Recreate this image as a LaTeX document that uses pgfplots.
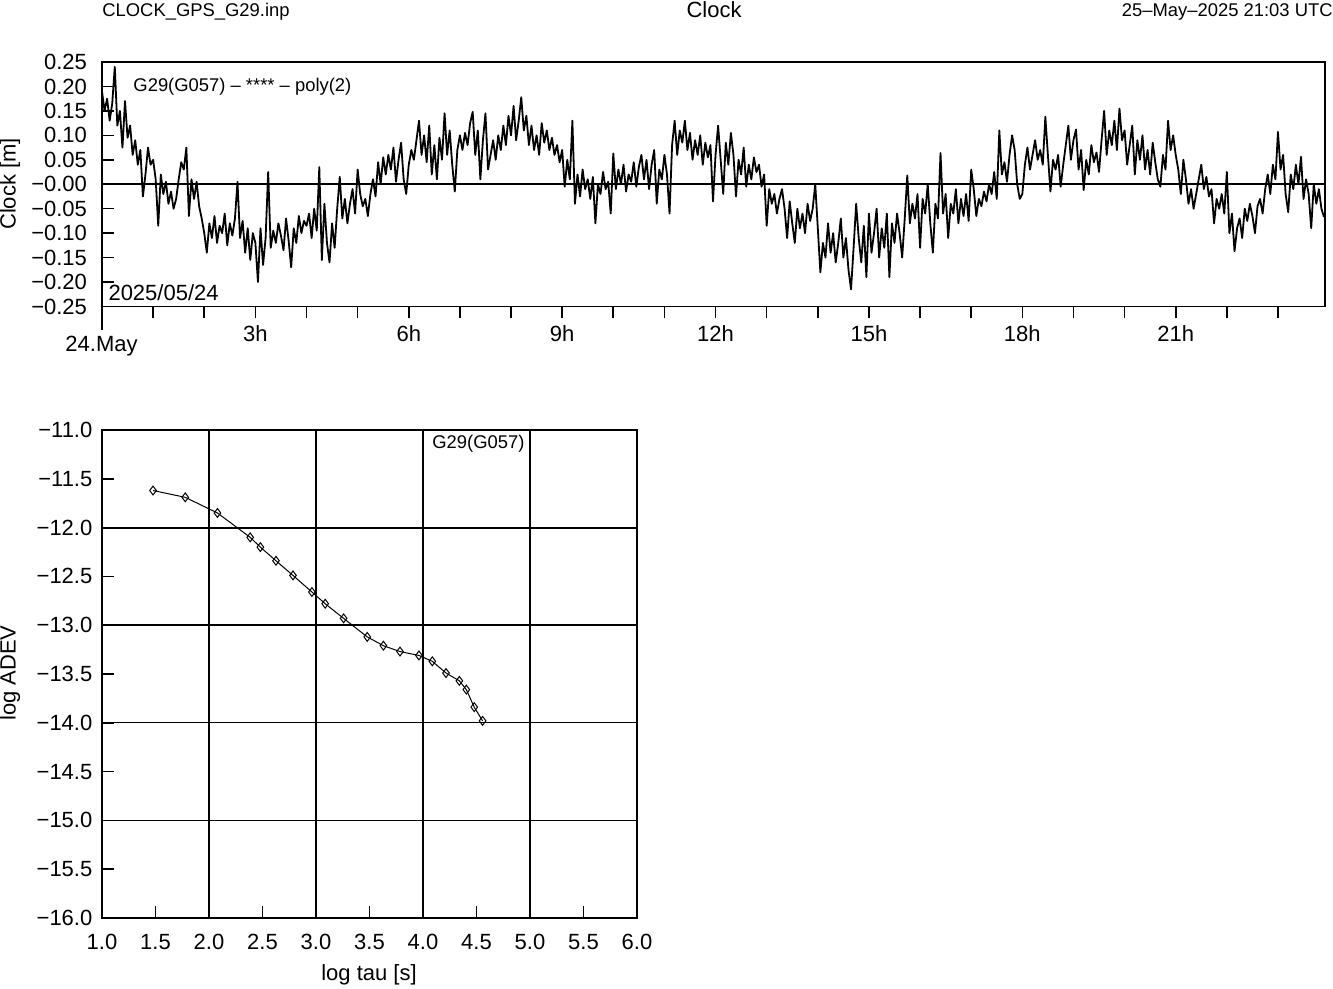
\documentclass[border=0pt]{standalone}
\usepackage{pgfplots}
\pgfplotsset{compat=1.18}
\usepackage{fontspec}
\setmainfont{Liberation Sans}
\newcommand{\tf}{\fontsize{11}{13}\selectfont}
\newcommand{\smf}{\fontsize{9.2}{11}\selectfont}
\begin{document}
\begin{tikzpicture}
\useasboundingbox (0,0) rectangle (666.5pt,494.5pt);
% header texts
\node[anchor=west,inner sep=0pt,font=\smf] at (51pt,488.5pt) {CLOCK\_GPS\_G29.inp};
\node[inner sep=0pt,font=\tf] at (357pt,489.5pt) {Clock};
\node[anchor=east,inner sep=0pt,font=\smf] at (666.5pt,488.5pt) {25–May–2025 21:03 UTC};
\node[rotate=90,inner sep=0pt,font=\tf] at (5pt,402.5pt) {Clock [m]};
\node[rotate=90,inner sep=0pt,font=\tf] at (5pt,158pt) {log ADEV};
\node[inner sep=0pt,font=\tf] at (184.5pt,7pt) {log tau [s]};
\node[inner sep=0pt,font=\tf] at (50.75pt,321.5pt) {24.May};
\draw[line width=0.8pt] (51pt,341.25pt) -- (51pt,329.5pt);

\begin{axis}[
  at={(51pt,341.25pt)}, anchor=south west,
  scale only axis, width=611.5pt, height=122.25pt,
  xmin=0, xmax=23.92, ymin=-0.25, ymax=0.25,
  axis line style={line width=0.8pt},
  xtick={0,...,23},
  xticklabels={,,,3h,,,6h,,,9h,,,12h,,,15h,,,18h,,,21h,,},
  xtick pos=bottom, ytick pos=left,
  xtick align=outside, ytick align=inside,
  major tick length=6pt,
  tick style={line width=0.8pt, black},
  ytick={-0.25,-0.2,-0.15,-0.1,-0.05,0,0.05,0.1,0.15,0.2,0.25},
  yticklabels={−0.25,−0.20,−0.15,−0.10,−0.05,−0.00,0.05,0.10,0.15,0.20,0.25},
  tick label style={font=\tf},
  yticklabel style={xshift=-4pt},
  clip=true,
]
\addplot[black, line width=1pt] coordinates {(0,0) (23.92,0)};
\addplot[black, line width=0.9pt, line join=round] table[header=false, row sep=\\, x expr=\coordindex*0.05, y index=0]{
0.190\\ 0.150\\ 0.175\\ 0.130\\ 0.165\\ 0.240\\ 0.120\\ 0.150\\ 0.075\\ 0.170\\ 0.095\\ 0.120\\ 0.060\\ 0.090\\ 0.040\\ 0.070\\ -0.025\\ 0.020\\ 0.075\\ 0.040\\
0.050\\ 0.010\\ -0.085\\ 0.020\\ -0.020\\ 0.005\\ -0.040\\ -0.015\\ -0.050\\ -0.030\\ 0.010\\ 0.045\\ 0.030\\ 0.075\\ -0.065\\ 0.010\\ -0.030\\ 0.005\\ -0.045\\ -0.070\\
-0.100\\ -0.140\\ -0.080\\ -0.110\\ -0.065\\ -0.120\\ -0.085\\ -0.100\\ -0.060\\ -0.125\\ -0.080\\ -0.105\\ -0.070\\ 0.005\\ -0.110\\ -0.075\\ -0.140\\ -0.090\\ -0.155\\ -0.100\\
-0.120\\ -0.200\\ -0.090\\ -0.165\\ -0.110\\ 0.025\\ -0.130\\ -0.095\\ -0.120\\ -0.080\\ -0.105\\ -0.135\\ -0.070\\ -0.115\\ -0.170\\ -0.090\\ -0.120\\ -0.065\\ -0.100\\ -0.075\\
-0.085\\ -0.060\\ -0.110\\ -0.050\\ -0.095\\ 0.035\\ -0.155\\ -0.040\\ -0.120\\ -0.160\\ -0.080\\ -0.130\\ -0.050\\ 0.015\\ -0.070\\ -0.030\\ -0.080\\ -0.040\\ -0.010\\ -0.060\\
0.030\\ -0.020\\ -0.045\\ -0.030\\ -0.065\\ -0.020\\ 0.010\\ -0.025\\ 0.045\\ 0.000\\ 0.055\\ 0.020\\ 0.060\\ 0.030\\ 0.075\\ 0.005\\ 0.050\\ 0.085\\ 0.010\\ -0.020\\
0.040\\ 0.070\\ 0.050\\ 0.090\\ 0.130\\ 0.060\\ 0.100\\ 0.045\\ 0.120\\ 0.020\\ 0.080\\ 0.010\\ 0.095\\ 0.050\\ 0.145\\ 0.060\\ 0.110\\ 0.040\\ -0.015\\ 0.070\\
0.100\\ 0.070\\ 0.105\\ 0.080\\ 0.125\\ 0.148\\ 0.060\\ 0.110\\ 0.010\\ 0.090\\ 0.145\\ 0.030\\ 0.060\\ 0.090\\ 0.050\\ 0.100\\ 0.070\\ 0.120\\ 0.080\\ 0.140\\
0.100\\ 0.160\\ 0.090\\ 0.130\\ 0.178\\ 0.110\\ 0.140\\ 0.080\\ 0.120\\ 0.070\\ 0.100\\ 0.060\\ 0.125\\ 0.085\\ 0.110\\ 0.070\\ 0.095\\ 0.060\\ 0.080\\ 0.045\\
0.070\\ -0.005\\ 0.050\\ 0.010\\ 0.130\\ -0.040\\ 0.020\\ -0.025\\ 0.030\\ -0.010\\ 0.010\\ -0.030\\ 0.015\\ -0.080\\ 0.000\\ -0.020\\ 0.025\\ -0.010\\ 0.005\\ -0.060\\
0.063\\ -0.010\\ 0.030\\ 0.000\\ 0.040\\ -0.015\\ 0.020\\ 0.005\\ 0.045\\ -0.005\\ 0.035\\ 0.060\\ 0.010\\ 0.050\\ -0.010\\ 0.040\\ 0.070\\ -0.040\\ 0.030\\ 0.010\\
0.060\\ 0.020\\ -0.060\\ 0.080\\ 0.130\\ 0.060\\ 0.110\\ 0.085\\ 0.130\\ 0.070\\ 0.105\\ 0.050\\ 0.090\\ 0.060\\ 0.100\\ 0.040\\ 0.085\\ 0.055\\ 0.080\\ -0.035\\
0.060\\ 0.120\\ 0.050\\ -0.020\\ 0.085\\ 0.040\\ 0.105\\ 0.060\\ -0.025\\ 0.050\\ 0.020\\ 0.075\\ -0.005\\ 0.040\\ 0.010\\ 0.055\\ 0.025\\ 0.040\\ -0.005\\ 0.020\\
-0.085\\ -0.010\\ -0.040\\ -0.020\\ -0.060\\ -0.030\\ -0.010\\ -0.050\\ -0.110\\ -0.035\\ -0.080\\ -0.120\\ -0.050\\ -0.090\\ -0.060\\ -0.100\\ -0.040\\ -0.075\\ -0.050\\ 0.000\\
-0.090\\ -0.180\\ -0.120\\ -0.150\\ -0.080\\ -0.140\\ -0.100\\ -0.160\\ -0.120\\ -0.070\\ -0.150\\ -0.110\\ -0.175\\ -0.215\\ -0.130\\ -0.040\\ -0.110\\ -0.160\\ -0.085\\ -0.190\\
-0.060\\ -0.140\\ -0.100\\ -0.050\\ -0.150\\ -0.090\\ -0.130\\ -0.060\\ -0.190\\ -0.080\\ -0.120\\ -0.060\\ -0.100\\ -0.150\\ -0.070\\ 0.018\\ -0.080\\ -0.040\\ -0.070\\ -0.020\\
-0.130\\ -0.030\\ -0.060\\ 0.000\\ -0.080\\ -0.140\\ -0.040\\ -0.070\\ 0.064\\ -0.060\\ -0.020\\ -0.110\\ -0.040\\ -0.060\\ -0.010\\ -0.080\\ -0.030\\ -0.065\\ -0.020\\ -0.075\\
0.030\\ -0.010\\ -0.065\\ -0.030\\ -0.045\\ -0.015\\ -0.035\\ 0.000\\ -0.020\\ 0.025\\ -0.030\\ 0.110\\ 0.020\\ 0.045\\ 0.005\\ 0.060\\ 0.100\\ 0.070\\ 0.000\\ -0.030\\
-0.020\\ 0.040\\ 0.075\\ 0.030\\ 0.060\\ 0.090\\ 0.050\\ 0.070\\ 0.040\\ 0.138\\ 0.060\\ -0.015\\ 0.050\\ 0.030\\ 0.060\\ -0.005\\ 0.040\\ 0.080\\ 0.120\\ 0.050\\
0.090\\ 0.112\\ 0.030\\ 0.070\\ -0.012\\ 0.050\\ 0.020\\ 0.080\\ 0.045\\ 0.065\\ 0.025\\ 0.090\\ 0.150\\ 0.060\\ 0.110\\ 0.080\\ 0.130\\ 0.070\\ 0.155\\ 0.090\\
0.110\\ 0.040\\ 0.080\\ 0.120\\ 0.020\\ 0.090\\ 0.050\\ 0.100\\ 0.030\\ 0.070\\ 0.020\\ 0.085\\ 0.045\\ 0.010\\ -0.005\\ 0.060\\ 0.030\\ 0.130\\ 0.070\\ 0.100\\
0.060\\ 0.030\\ -0.020\\ 0.050\\ 0.010\\ -0.040\\ -0.010\\ -0.050\\ -0.020\\ 0.010\\ 0.040\\ -0.010\\ 0.015\\ -0.025\\ -0.010\\ -0.080\\ -0.030\\ -0.050\\ -0.020\\ -0.060\\
0.025\\ -0.100\\ -0.060\\ -0.137\\ -0.090\\ -0.070\\ -0.110\\ -0.050\\ -0.075\\ -0.040\\ -0.065\\ -0.100\\ -0.045\\ -0.030\\ -0.060\\ -0.010\\ 0.020\\ -0.020\\ 0.040\\ 0.010\\
0.107\\ 0.030\\ 0.060\\ -0.020\\ -0.057\\ 0.020\\ -0.010\\ 0.040\\ 0.000\\ 0.056\\ -0.030\\ 0.010\\ -0.020\\ -0.090\\ 0.000\\ -0.040\\ -0.010\\ -0.050\\ -0.067\\
};
\node[anchor=west,inner sep=0pt,font=\smf] at (rel axis cs:0.0254,0.9) {G29(G057) – **** – poly(2)};
\node[anchor=west,inner sep=0pt,font=\tf] at (rel axis cs:0.005,0.055) {2025/05/24};
\end{axis}

\begin{axis}[
  at={(51pt,35.5pt)}, anchor=south west,
  scale only axis, width=267.5pt, height=244pt,
  xmin=1, xmax=6, ymin=-16, ymax=-11,
  axis line style={line width=0.8pt},
  xtick={1,1.5,2,2.5,3,3.5,4,4.5,5,5.5,6},
  xticklabels={1.0,1.5,2.0,2.5,3.0,3.5,4.0,4.5,5.0,5.5,6.0},
  ytick={-16,-15.5,-15,-14.5,-14,-13.5,-13,-12.5,-12,-11.5,-11},
  yticklabels={−16.0,−15.5,−15.0,−14.5,−14.0,−13.5,−13.0,−12.5,−12.0,−11.5,−11.0},
  xtick pos=bottom, ytick pos=left,
  tick align=inside,
  major tick length=6pt,
  tick style={line width=0.8pt, black},
  tick label style={font=\tf},
  yticklabel style={xshift=-1.3pt},
  xticklabel style={yshift=-4.5pt},
  extra x ticks={2,3,4,5}, extra x tick labels={},
  extra x tick style={grid=major, major grid style={line width=1pt, black}, major tick length=0pt},
  extra y ticks={-12,-13}, extra y tick labels={},
  extra y tick style={grid=major, major grid style={line width=1pt, black}, major tick length=0pt},
  minor ytick={-14,-15}, yminorgrids=true, minor tick length=0pt,
  minor grid style={line width=0.5pt, black},
]
\addplot[black, line width=0.5pt, mark=diamond, mark size=2.2pt, mark options={solid, fill=white, line width=0.5pt}] table{
1.477 -11.62
1.778 -11.69
2.079 -11.85
2.385 -12.10
2.480 -12.20
2.626 -12.34
2.785 -12.49
2.962 -12.66
3.086 -12.78
3.258 -12.93
3.479 -13.12
3.630 -13.21
3.785 -13.27
3.962 -13.31
4.087 -13.37
4.215 -13.49
4.340 -13.57
4.405 -13.66
4.479 -13.84
4.557 -13.98
};
\node[anchor=west,inner sep=0pt,font=\smf] at (axis cs:4.084,-11.14) {G29(G057)};
\end{axis}
\end{tikzpicture}
\end{document}
